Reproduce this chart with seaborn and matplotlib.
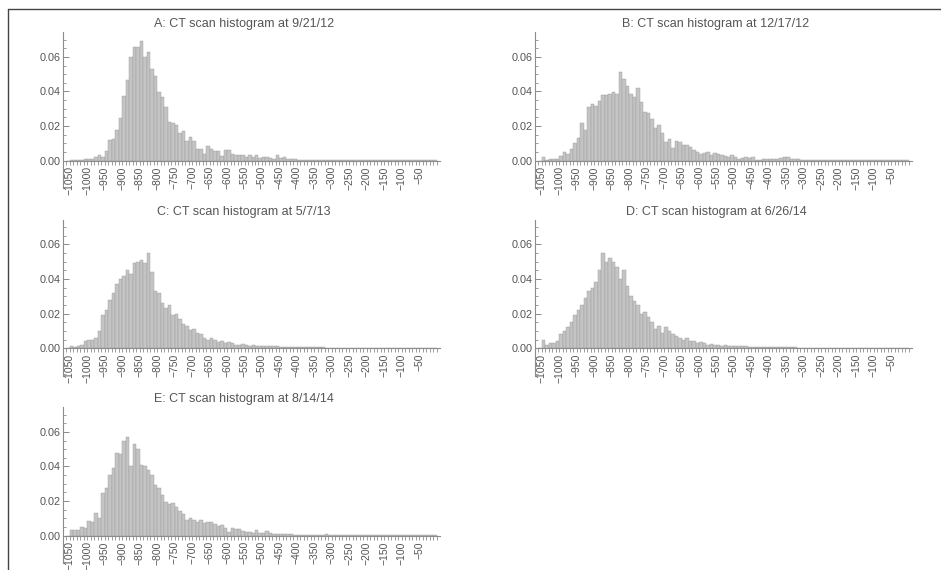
import numpy as np
import pandas as pd
import seaborn as sns
import matplotlib
matplotlib.use("Agg")
import matplotlib.pyplot as plt
from matplotlib.lines import Line2D
from matplotlib.ticker import MultipleLocator, FixedLocator

# Hounsfield-unit bins, 10 HU wide, left edges from -1060 up to -10
bin_left = list(range(-1060, 0, 10))

titles = [
    "A: CT scan histogram at 9/21/12",
    "B: CT scan histogram at 12/17/12",
    "C: CT scan histogram at 5/7/13",
    "D: CT scan histogram at 6/26/14",
    "E: CT scan histogram at 8/14/14",
]

# Relative frequency per bin, listed from -1060 HU upward
scan_a = [
    0.0, 0.0005, 0.0005, 0.0005, 0.0005, 0.0008, 0.001, 0.0008, 0.002, 0.003,
    0.002, 0.0055, 0.012, 0.0125, 0.0175, 0.0245, 0.0373, 0.0465, 0.060, 0.066,
    0.066, 0.069, 0.060, 0.063, 0.053, 0.049, 0.0395, 0.037, 0.031, 0.0223,
    0.022, 0.0205, 0.016, 0.017, 0.0115, 0.0135, 0.0115, 0.0065, 0.007, 0.004,
    0.0085, 0.0065, 0.0055, 0.0055, 0.0025, 0.006, 0.006, 0.004, 0.0035, 0.003,
    0.0035, 0.002, 0.003, 0.002, 0.003, 0.0015, 0.002, 0.002, 0.0015, 0.001,
    0.003, 0.0015, 0.002, 0.001, 0.001, 0.0007, 0.0005, 0.0005, 0.0005, 0.0005,
    0.0005, 0.0004, 0.0004, 0.0004, 0.0004, 0.0003, 0.0003, 0.0003, 0.0003, 0.0003,
    0.0003, 0.0003, 0.0003, 0.0003, 0.0003, 0.0003, 0.0002, 0.0002, 0.0002, 0.0002,
    0.0002, 0.0002, 0.0002, 0.0002, 0.0002, 0.0002, 0.0002, 0.0002, 0.0002, 0.0002,
    0.0002, 0.0002, 0.0002, 0.0002, 0.0002, 0.0002,
]
scan_b = [
    0.0, 0.002, 0.0005, 0.001, 0.0008, 0.001, 0.0025, 0.005, 0.004, 0.007,
    0.0105, 0.013, 0.0215, 0.018, 0.031, 0.0325, 0.0315, 0.0345, 0.038, 0.038,
    0.0385, 0.0395, 0.0385, 0.0515, 0.047, 0.043, 0.0385, 0.037, 0.042, 0.034,
    0.028, 0.0275, 0.024, 0.019, 0.0205, 0.016, 0.011, 0.0125, 0.0075, 0.0115,
    0.011, 0.0088, 0.0088, 0.008, 0.006, 0.005, 0.004, 0.0045, 0.005, 0.003,
    0.0042, 0.0038, 0.0035, 0.0025, 0.002, 0.003, 0.002, 0.001, 0.0015, 0.002,
    0.0015, 0.002, 0.0005, 0.0005, 0.001, 0.0012, 0.001, 0.0012, 0.0012, 0.0015,
    0.002, 0.002, 0.001, 0.001, 0.0008, 0.0005, 0.0005, 0.0005, 0.0004, 0.0004,
    0.0004, 0.0003, 0.0003, 0.0003, 0.0003, 0.0003, 0.0003, 0.0003, 0.0002, 0.0002,
    0.0002, 0.0002, 0.0002, 0.0002, 0.0002, 0.0002, 0.0002, 0.0002, 0.0002, 0.0002,
    0.0002, 0.0002, 0.0002, 0.0002, 0.0002, 0.0002,
]
scan_c = [
    0.0, 0.001, 0.0008, 0.001, 0.002, 0.004, 0.0045, 0.005, 0.006, 0.01,
    0.019, 0.022, 0.028, 0.032, 0.037, 0.040, 0.042, 0.045, 0.043, 0.049,
    0.050, 0.051, 0.049, 0.055, 0.044, 0.033, 0.032, 0.026, 0.023, 0.025,
    0.019, 0.020, 0.017, 0.014, 0.013, 0.0105, 0.011, 0.0085, 0.008, 0.006,
    0.005, 0.006, 0.005, 0.0035, 0.004, 0.003, 0.0035, 0.003, 0.002, 0.002,
    0.0025, 0.002, 0.0015, 0.002, 0.0015, 0.001, 0.0015, 0.001, 0.001, 0.0012,
    0.001, 0.0008, 0.0008, 0.0007, 0.0006, 0.0006, 0.0005, 0.0005, 0.0005, 0.0005,
    0.0005, 0.0004, 0.0004, 0.0004, 0.0003, 0.0003, 0.0003, 0.0003, 0.0003, 0.0003,
    0.0003, 0.0003, 0.0002, 0.0002, 0.0002, 0.0002, 0.0002, 0.0002, 0.0002, 0.0002,
    0.0002, 0.0002, 0.0002, 0.0002, 0.0002, 0.0002, 0.0002, 0.0002, 0.0002, 0.0002,
    0.0002, 0.0002, 0.0002, 0.0002, 0.0002, 0.0002,
]
scan_d = [
    0.0, 0.005, 0.002, 0.003, 0.003, 0.004, 0.008, 0.010, 0.012, 0.015,
    0.019, 0.022, 0.025, 0.029, 0.033, 0.035, 0.038, 0.045, 0.055, 0.050,
    0.052, 0.050, 0.047, 0.040, 0.045, 0.036, 0.030, 0.027, 0.025, 0.020,
    0.021, 0.018, 0.015, 0.011, 0.013, 0.009, 0.012, 0.010, 0.008, 0.007,
    0.006, 0.005, 0.006, 0.004, 0.004, 0.003, 0.0035, 0.003, 0.002, 0.0025,
    0.002, 0.002, 0.0015, 0.002, 0.0015, 0.0015, 0.001, 0.0012, 0.001, 0.001,
    0.0008, 0.0008, 0.0007, 0.0007, 0.0006, 0.0006, 0.0005, 0.0005, 0.0005, 0.0005,
    0.0004, 0.0004, 0.0004, 0.0004, 0.0003, 0.0003, 0.0003, 0.0003, 0.0003, 0.0003,
    0.0003, 0.0003, 0.0002, 0.0002, 0.0002, 0.0002, 0.0002, 0.0002, 0.0002, 0.0002,
    0.0002, 0.0002, 0.0002, 0.0002, 0.0002, 0.0002, 0.0002, 0.0002, 0.0002, 0.0002,
    0.0002, 0.0002, 0.0002, 0.0002, 0.0002, 0.0002,
]
scan_e = [
    0.0, 0.003, 0.0035, 0.0035, 0.005, 0.0045, 0.0085, 0.008, 0.013, 0.0105,
    0.0245, 0.0275, 0.035, 0.039, 0.048, 0.047, 0.055, 0.057, 0.0405, 0.053,
    0.050, 0.041, 0.0405, 0.038, 0.035, 0.0295, 0.0275, 0.0235, 0.0195, 0.0185,
    0.019, 0.0165, 0.014, 0.0125, 0.009, 0.0105, 0.009, 0.008, 0.009, 0.0075,
    0.008, 0.008, 0.007, 0.0055, 0.006, 0.0045, 0.002, 0.0045, 0.004, 0.004,
    0.0025, 0.002, 0.002, 0.0015, 0.003, 0.0015, 0.0015, 0.0025, 0.0015, 0.001,
    0.0012, 0.001, 0.0012, 0.001, 0.0007, 0.0006, 0.0005, 0.0005, 0.0005, 0.0005,
    0.0005, 0.0005, 0.0004, 0.0004, 0.001, 0.0004, 0.0003, 0.0003, 0.0003, 0.0003,
    0.0003, 0.0003, 0.0003, 0.0003, 0.0003, 0.0002, 0.0002, 0.0002, 0.0002, 0.0002,
    0.0002, 0.0002, 0.0002, 0.0002, 0.0002, 0.0002, 0.0002, 0.0002, 0.0002, 0.0002,
    0.0002, 0.0002, 0.0002, 0.0002, 0.0002, 0.0002,
]
scans = [scan_a, scan_b, scan_c, scan_d, scan_e]

tick_values = list(range(-1050, 0, 50))
tick_labels = [f"\u2212{abs(v)}" for v in tick_values]

sns.set_style("white")
plt.rcParams["font.family"] = ["Liberation Sans", "DejaVu Sans"]

W, H = 941, 570
fig = plt.figure(figsize=(W / 100, H / 100), dpi=100)

axis_grey = "#8c8c8c"
text_grey = "#555555"
bar_grey = "#c4c4c4"

col_left = [63, 535]
ax_w = 377
ax_h = 156
row_top = [32, 219.5, 407]

edges = bin_left + [0]
for k, (title, vals) in enumerate(zip(titles, scans)):
    r, c = divmod(k, 2)
    left = col_left[c] / W
    bottom = 1 - (row_top[r] + ax_h) / H
    ax = fig.add_axes([left, bottom, ax_w / W, ax_h / H])
    df = pd.DataFrame({"hu": np.array(bin_left) + 5, "freq": vals})
    sns.histplot(data=df, x="hu", weights="freq", bins=edges, stat="count",
                 color=bar_grey, edgecolor="#9a9a9a", linewidth=0.3,
                 alpha=1.0, ax=ax)
    ax.set_xlim(-1070, 10)
    ax.set_ylim(-0.0158, 0.0744)
    ax.set_xlabel("")
    ax.set_ylabel("")

    for s in ("top", "right"):
        ax.spines[s].set_visible(False)
    ax.spines["bottom"].set_position(("data", 0))
    for s in ("left", "bottom"):
        ax.spines[s].set_color(axis_grey)
        ax.spines[s].set_linewidth(0.8)

    ax.yaxis.set_major_locator(FixedLocator([0.0, 0.02, 0.04, 0.06]))
    ax.yaxis.set_minor_locator(MultipleLocator(0.005))
    ax.set_yticklabels(["0.00", "0.02", "0.04", "0.06"])
    ax.tick_params(axis="y", which="both", left=True, right=False)
    ax.tick_params(axis="y", which="major", direction="in", length=4,
                   width=0.7, color=axis_grey, labelsize=7.8,
                   labelcolor=text_grey, pad=2)
    ax.tick_params(axis="y", which="minor", direction="in", length=2,
                   width=0.6, color=axis_grey)

    ax.xaxis.set_major_locator(FixedLocator(tick_values))
    ax.set_xticklabels(tick_labels, rotation=90)
    ax.xaxis.set_minor_locator(FixedLocator(list(range(-1060, 1, 10))))
    ax.tick_params(axis="x", which="both", bottom=True, top=False)
    ax.tick_params(axis="x", which="major", direction="out", length=3,
                   width=0.6, color=axis_grey, labelsize=7.5,
                   labelcolor=text_grey, pad=1)
    ax.tick_params(axis="x", which="minor", direction="out", length=3,
                   width=0.6, color=axis_grey)
    for lab in ax.get_xticklabels():
        lab.set_verticalalignment("top")

    ax.text(0.48, 1 + 8 / ax_h, title, transform=ax.transAxes,
            ha="center", va="center", fontsize=9, color=text_grey)

# grid frame lines along the top and left edges
fig.add_artist(Line2D([8 / W, 1], [1 - 9 / H, 1 - 9 / H],
                      transform=fig.transFigure, color="#444444", lw=1.0))
fig.add_artist(Line2D([8 / W, 8 / W], [0, 1 - 9 / H],
                      transform=fig.transFigure, color="#444444", lw=1.0))

fig.savefig("out.png", dpi=100)
